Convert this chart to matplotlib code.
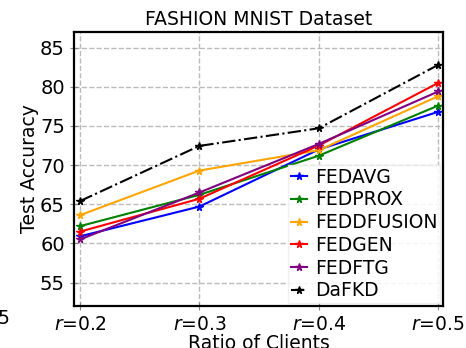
import numpy as np
import matplotlib
matplotlib.use("Agg")
import matplotlib.pyplot as plt

ratios = [0.2, 0.3, 0.4, 0.5]
tick_labels = ["$r$=0.2", "$r$=0.3", "$r$=0.4", "$r$=0.5"]

fedavg = [60.9, 64.7, 72.0, 76.8]
fedprox = [62.2, 66.2, 71.2, 77.6]
feddfusion = [63.6, 69.3, 71.9, 78.8]
fedgen = [61.5, 65.7, 72.5, 80.5]
fedftg = [60.5, 66.5, 72.7, 79.4]
dafkd = [65.4, 72.45, 74.7, 82.8]

series = [
    ("FEDAVG", fedavg, "blue", "-"),
    ("FEDPROX", fedprox, "green", "-"),
    ("FEDDFUSION", feddfusion, "orange", "-"),
    ("FEDGEN", fedgen, "red", "-"),
    ("FEDFTG", fedftg, "purple", "-"),
    ("DaFKD", dafkd, "black", "-."),
]

fig = plt.figure(figsize=(4.66, 3.48), dpi=100)
ax = fig.add_axes([74 / 466, 1 - 306 / 348, (443 - 74) / 466, (306 - 32) / 348])

for name, vals, col, ls in series:
    ax.plot(ratios, vals, color=col, linestyle=ls, marker="*", markersize=5.5,
            linewidth=1.5, label=name)

ax.set_xlim(0.195, 0.504)
ax.set_ylim(52, 87)
ax.set_xticks(ratios)
ax.set_xticklabels(tick_labels, fontsize=13.5)
ax.set_yticks([55, 60, 65, 70, 75, 80, 85])
ax.tick_params(axis="y", labelsize=14)
ax.tick_params(direction="inout", length=6, width=0.8, color="#888888")
ax.grid(True, linestyle="--", color="#bbbbbb", linewidth=1)
for s in ax.spines.values():
    s.set_linewidth(1.6)

ax.set_title("FASHION MNIST Dataset", fontsize=13.5, pad=5)
ax.set_xlabel("Ratio of Clients", fontsize=13.5, labelpad=0)
ax.set_ylabel("Test Accuracy", fontsize=13.5, labelpad=1)

leg = ax.legend(loc="lower right", fontsize=13.5, handlelength=0.9,
                handletextpad=0.4, labelspacing=0.2, borderaxespad=0.15,
                borderpad=0.15, frameon=True, fancybox=False,
                edgecolor="#eeeeee", framealpha=0.85)

fig.text(-0.006, 1 - 318 / 348, "5", fontsize=13.5, va="center", ha="left")

fig.savefig("out.png", dpi=100)
